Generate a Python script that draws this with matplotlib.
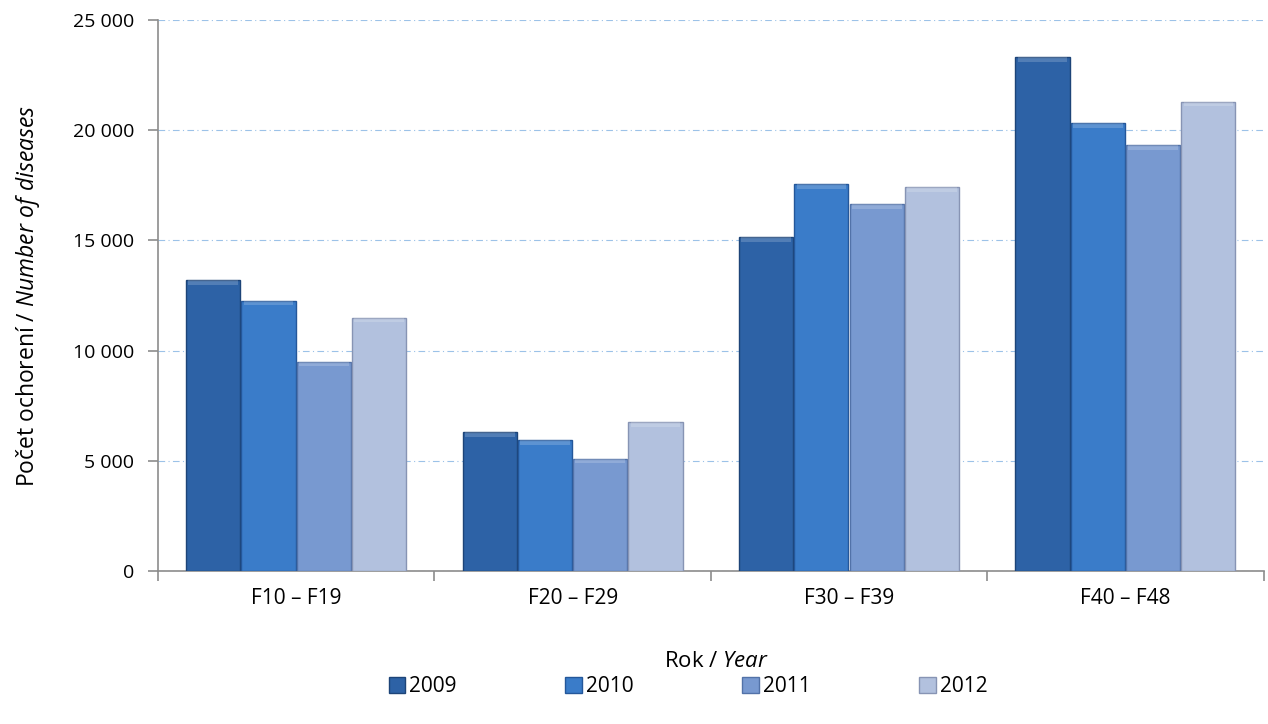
import matplotlib
matplotlib.use("Agg")
import numpy as np
import matplotlib.pyplot as plt
from matplotlib.ticker import FuncFormatter, FixedLocator

# Data
categories = ["F10 – F19", "F20 – F29", "F30 – F39", "F40 – F48"]
years = ["2009", "2010", "2011", "2012"]
values_2009 = [13200, 6300, 15150, 23300]
values_2010 = [12270, 5950, 17550, 20330]
values_2011 = [9500, 5100, 16650, 19330]
values_2012 = [11500, 6750, 17400, 21300]
y_ticks = [0, 5000, 10000, 15000, 20000, 25000]

series = [values_2009, values_2010, values_2011, values_2012]
colors = ["#2d62a6", "#3a7cc9", "#7899d0", "#b2c1de"]
edges = ["#1d4478", "#24579a", "#5272a8", "#8794b4"]

plt.rcParams["font.family"] = ["Open Sans", "DejaVu Sans"]
plt.rcParams["mathtext.fontset"] = "custom"
plt.rcParams["mathtext.rm"] = "Open Sans"
plt.rcParams["mathtext.it"] = "Open Sans:italic"

fig = plt.figure(figsize=(12.68, 7.24), dpi=100)
ax = fig.add_axes([0.1246, 0.2113, 0.872, 0.7611])

x = np.arange(len(categories))
width = 0.2
for i, (vals, yr) in enumerate(zip(series, years)):
    pos = x + (i - 1.5) * width
    ax.bar(pos, vals, width=width * 0.98, color=colors[i], edgecolor=edges[i],
           linewidth=1.0, label=yr, zorder=3)
    # lighter bevel on top of each bar
    ax.bar(pos, [220] * len(vals), bottom=np.array(vals) - 220, width=width * 0.9,
           color="white", alpha=0.18, linewidth=0, zorder=4)

ax.set_xlim(-0.5, 3.5)
ax.set_ylim(0, 25000)
ax.yaxis.set_major_locator(FixedLocator(y_ticks))
ax.yaxis.set_major_formatter(FuncFormatter(lambda v, p: f"{int(v):,}".replace(",", " ")))

ax.grid(axis="y", color="#9cc2e8", linestyle=(0, (6, 3, 1, 3)), linewidth=0.8, zorder=0)
ax.set_axisbelow(True)

for s in ["top", "right"]:
    ax.spines[s].set_visible(False)
ax.spines["left"].set_color("#8c8c8c")
ax.spines["bottom"].set_color("#8c8c8c")
ax.spines["left"].set_linewidth(1.2)
ax.spines["bottom"].set_linewidth(1.2)

ax.set_xticks(x)
ax.set_xticklabels(categories, fontsize=15)
ax.set_xticks([-0.5, 0.5, 1.5, 2.5, 3.5], minor=True)
ax.tick_params(axis="x", which="major", length=0, pad=12)
ax.tick_params(axis="x", which="minor", length=7, color="#8c8c8c", width=1.2)
ax.tick_params(axis="y", length=7, color="#8c8c8c", width=1.2, labelsize=14, pad=10)

ax.set_ylabel(r"Počet ochorení / $\it{Number\ of\ diseases}$", fontsize=16.5, labelpad=22)
ax.set_xlabel(r"Rok / $\it{Year}$", fontsize=16, labelpad=33)
ax.xaxis.set_label_coords(0.505, -0.145)

fig.legend(loc="center", bbox_to_anchor=(0.5426, 0.052), ncol=4, frameon=False,
           fontsize=15, handlelength=0.8, handleheight=0.8, handletextpad=0.2,
           columnspacing=5.2)

fig.savefig("out.png", dpi=100)
